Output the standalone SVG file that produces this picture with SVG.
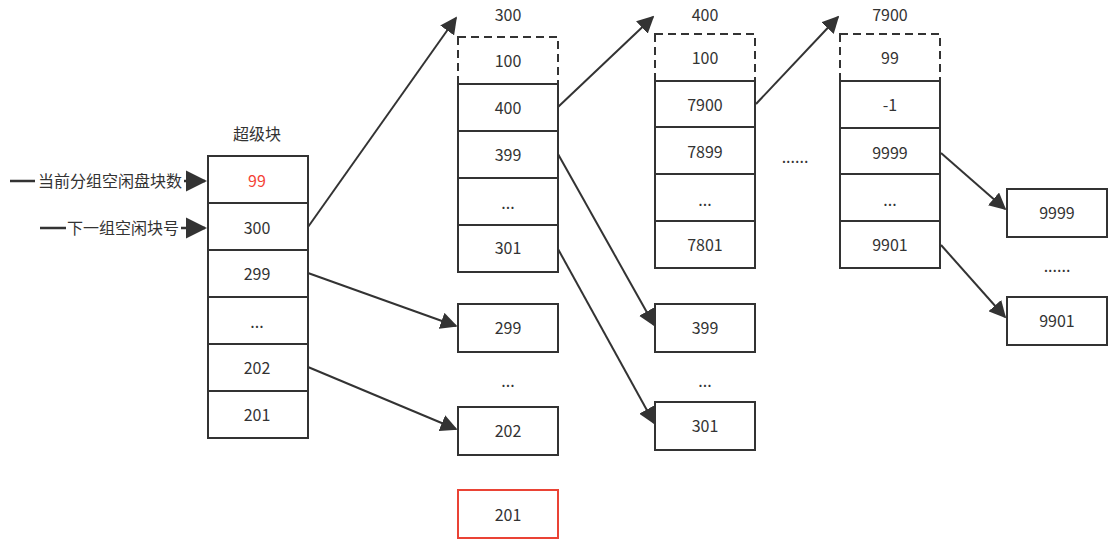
<svg xmlns="http://www.w3.org/2000/svg" width="1114" height="547" viewBox="0 0 1114 547">
<style>
.c{fill:#fff;stroke:#333;stroke-width:2}
.d{fill:#fff;stroke:#333;stroke-width:2;stroke-dasharray:8 5}
.r{fill:#fff;stroke:#ea4335;stroke-width:2}
text{font-family:"Noto Sans CJK SC","Microsoft YaHei","Noto Sans",sans-serif;font-size:16px;fill:#333;text-anchor:middle;dominant-baseline:central}
</style>
<defs>
<marker id="b" viewBox="0 0 10 10" refX="9" refY="5" markerWidth="8.5" markerHeight="8.5" orient="auto">
<path d="M0,0 L10,5 L0,10 z" fill="#333"/>
</marker>
</defs>
<rect width="1114" height="547" fill="#fff"/>
<g id="connectors" stroke="#333" stroke-width="2" fill="none">
<path d="M10,181 H205" marker-end="url(#b)" stroke-width="2.5"/>
<path d="M40,228 H205" marker-end="url(#b)" stroke-width="2.5"/>
<path d="M308,227 L456,18" marker-end="url(#b)"/>
<path d="M308,273 L456,326" marker-end="url(#b)"/>
<path d="M308,367 L456,429" marker-end="url(#b)"/>
<path d="M558,107 L653,17" marker-end="url(#b)"/>
<path d="M558,154 L654,325" marker-end="url(#b)"/>
<path d="M558,249 L654,423" marker-end="url(#b)"/>
<path d="M756,104 L838,17" marker-end="url(#b)"/>
<path d="M941,153 L1005,209" marker-end="url(#b)"/>
<path d="M941,245 L1005,317" marker-end="url(#b)"/>
</g>
<g id="labels-left">
<rect x="35" y="170" width="149" height="22" fill="#fff"/>
<text x="110" y="180">当前分组空闲盘块数</text>
<rect x="66" y="217" width="115" height="22" fill="#fff"/>
<text x="123" y="227">下一组空闲块号</text>
</g>
<g id="superblock">
<text x="257" y="133">超级块</text>
<rect class="c" x="208" y="156" width="100" height="47"/>
<text x="257" y="180" style="fill:#f44336">99</text>
<rect class="c" x="208" y="203" width="100" height="47"/>
<text x="257" y="227">300</text>
<rect class="c" x="208" y="250" width="100" height="47"/>
<text x="257" y="273">299</text>
<rect class="c" x="208" y="297" width="100" height="47"/>
<text x="257" y="321">...</text>
<rect class="c" x="208" y="344" width="100" height="47"/>
<text x="257" y="367">202</text>
<rect class="c" x="208" y="391" width="100" height="47"/>
<text x="257" y="414">201</text>
</g>
<g id="block300">
<text x="508" y="14">300</text>
<rect class="d" x="458" y="37" width="100" height="47"/>
<text x="508" y="60">100</text>
<rect class="c" x="458" y="84" width="100" height="47"/>
<text x="508" y="107">400</text>
<rect class="c" x="458" y="131" width="100" height="47"/>
<text x="508" y="154">399</text>
<rect class="c" x="458" y="178" width="100" height="47"/>
<text x="508" y="202">...</text>
<rect class="c" x="458" y="225" width="100" height="47"/>
<text x="508" y="247">301</text>
</g>
<g id="b299"><rect class="c" x="458" y="304" width="100" height="48"/><text x="508" y="327">299</text></g>
<text x="508" y="380">...</text>
<g id="b202"><rect class="c" x="458" y="407" width="100" height="48"/><text x="508" y="430">202</text></g>
<g id="b201"><rect class="r" x="458" y="490" width="100" height="48"/><text x="508" y="514">201</text></g>
<g id="block400">
<text x="705" y="14">400</text>
<rect class="d" x="655" y="34" width="100" height="47"/>
<text x="705" y="57">100</text>
<rect class="c" x="655" y="81" width="100" height="46"/>
<text x="705" y="104">7900</text>
<rect class="c" x="655" y="127" width="100" height="47"/>
<text x="705" y="151">7899</text>
<rect class="c" x="655" y="174" width="100" height="47"/>
<text x="705" y="199">...</text>
<rect class="c" x="655" y="221" width="100" height="47"/>
<text x="705" y="244">7801</text>
</g>
<g id="b399"><rect class="c" x="655" y="304" width="100" height="48"/><text x="705" y="327">399</text></g>
<text x="705" y="380">...</text>
<g id="b301"><rect class="c" x="655" y="402" width="100" height="48"/><text x="705" y="425">301</text></g>
<text x="795" y="156">......</text>
<g id="block7900">
<text x="890" y="14">7900</text>
<rect class="d" x="840" y="34" width="100" height="47"/>
<text x="890" y="57">99</text>
<rect class="c" x="840" y="81" width="100" height="47"/>
<text x="890" y="104">-1</text>
<rect class="c" x="840" y="128" width="100" height="46"/>
<text x="890" y="152">9999</text>
<rect class="c" x="840" y="174" width="100" height="47"/>
<text x="890" y="199">...</text>
<rect class="c" x="840" y="221" width="100" height="47"/>
<text x="890" y="244">9901</text>
</g>
<g id="b9999"><rect class="c" x="1007" y="189" width="100" height="48"/><text x="1057" y="212">9999</text></g>
<text x="1057" y="265">......</text>
<g id="b9901"><rect class="c" x="1007" y="297" width="100" height="48"/><text x="1057" y="320">9901</text></g>
</svg>
